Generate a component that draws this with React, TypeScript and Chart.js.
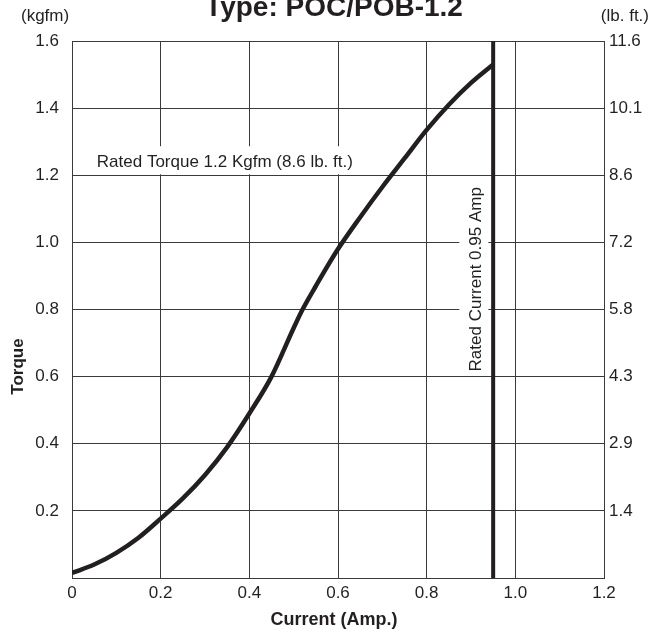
import React, { useEffect, useRef } from "react";
import { Chart, registerables } from "chart.js";

Chart.register(...registerables);

const currentAmp = [0, 0.05, 0.1, 0.15, 0.2, 0.25, 0.3, 0.35, 0.4, 0.45, 0.5, 0.52, 0.55, 0.6, 0.65, 0.7, 0.75, 0.8, 0.85, 0.9, 0.95];
const torqueKgfm = [0.015, 0.04, 0.075, 0.12, 0.177, 0.237, 0.307, 0.39, 0.49, 0.6, 0.745, 0.8, 0.87, 0.98, 1.075, 1.165, 1.25, 1.335, 1.41, 1.475, 1.53];
const lbftLabels = ["", "1.4", "2.9", "4.3", "5.8", "7.2", "8.6", "10.1", "11.6"];
const ratedCurrent = 0.95;
const ratedTorque = 1.2;
const titleText = "Type: POC/POB-1.2";
const torqueNote = "Rated Torque 1.2 Kgfm (8.6 lb. ft.)";
const currentNote = "Rated Current 0.95 Amp";

const FONT = "'Liberation Sans', Arial, Helvetica, sans-serif";
const INK = "#231f20";
const GRID = "#3a3a3a";

const annotationPlugin = {
  id: "annotations",
  beforeDatasetsDraw(chart: any) {
    const { ctx, chartArea, scales } = chart;
    const x = scales.x;
    const y = scales.y;
    ctx.save();
    ctx.font = `17px ${FONT}`;
    // torque note
    const tx = x.getPixelForValue(0.056);
    const yLine = y.getPixelForValue(ratedTorque);
    const tw = ctx.measureText(torqueNote).width;
    ctx.fillStyle = "#fff";
    ctx.fillRect(chartArea.left + 1, yLine - 29, tx - chartArea.left + tw + 6, 28);
    ctx.fillStyle = INK;
    ctx.textBaseline = "middle";
    ctx.textAlign = "left";
    ctx.fillText(torqueNote, tx, yLine - 13);
    // rated current note
    const cx = x.getPixelForValue(0.912);
    const cy = y.getPixelForValue(0.89);
    const cw = ctx.measureText(currentNote).width;
    ctx.fillStyle = "#fff";
    ctx.fillRect(cx - 17, cy - cw / 2 - 4, 29, cw + 6);
    ctx.translate(cx, cy);
    ctx.rotate(-Math.PI / 2);
    ctx.fillStyle = INK;
    ctx.textAlign = "center";
    ctx.textBaseline = "middle";
    ctx.fillText(currentNote, 0, 0);
    ctx.restore();
  },
  afterDraw(chart: any) {
    const { ctx, chartArea, scales } = chart;
    const mid = (chartArea.left + chartArea.right) / 2;
    ctx.save();
    ctx.fillStyle = INK;
    ctx.textBaseline = "alphabetic";
    ctx.font = `bold 28px ${FONT}`;
    ctx.textAlign = "center";
    ctx.fillText(titleText, mid - 4, 16);
    ctx.font = `17px ${FONT}`;
    ctx.textAlign = "left";
    ctx.fillText("(kgfm)", 21, 21);
    ctx.textAlign = "right";
    ctx.fillText("(lb. ft.)", chart.width - 3, 21);
    ctx.font = `bold 18px ${FONT}`;
    ctx.textAlign = "center";
    ctx.textBaseline = "middle";
    ctx.fillText("Current (Amp.)", mid - 4, 620);
    ctx.font = `bold 17px ${FONT}`;
    ctx.translate(18, scales.y.getPixelForValue(0.63));
    ctx.rotate(-Math.PI / 2);
    ctx.fillText("Torque", 0, 0);
    ctx.restore();
  },
};

export default function App() {
  const ref = useRef<HTMLCanvasElement | null>(null);
  useEffect(() => {
    document.body.style.margin = "0";
    const canvas = ref.current!;
    const chart = new Chart(canvas, {
      type: "line",
      data: {
        datasets: [
          {
            label: "Torque",
            data: currentAmp.map((c, i) => ({ x: c, y: torqueKgfm[i] })),
            borderColor: INK,
            borderWidth: 4.5,
            pointRadius: 0,
            cubicInterpolationMode: "monotone",
            fill: false,
            yAxisID: "y",
          },
          {
            label: "Rated current",
            data: [
              { x: ratedCurrent, y: 0 },
              { x: ratedCurrent, y: 1.6 },
            ],
            borderColor: INK,
            borderWidth: 4,
            pointRadius: 0,
            tension: 0,
            fill: false,
            yAxisID: "y",
          },
        ],
      },
      options: {
        responsive: false,
        animation: false,
        devicePixelRatio: 1,
        layout: { padding: { top: 41, left: 0, right: 0, bottom: 0 } },
        plugins: {
          legend: { display: false },
          tooltip: { enabled: false },
          title: { display: false },
        },
        scales: {
          x: {
            type: "linear",
            position: "bottom",
            min: 0,
            max: 1.2,
            ticks: {
              stepSize: 0.2,
              color: INK,
              font: { family: FONT, size: 17 },
              padding: 5,
              maxRotation: 0,
              callback: (v: any) => (Math.abs(v) < 1e-9 ? "0" : Number(v).toFixed(1)),
            },
            grid: { color: GRID, lineWidth: 1, drawTicks: false },
            border: { color: GRID, width: 1 },
            afterFit: (s: any) => {
              s.height = 58;
            },
          },
          y: {
            type: "linear",
            position: "left",
            min: 0,
            max: 1.6,
            ticks: {
              stepSize: 0.2,
              color: INK,
              font: { family: FONT, size: 17 },
              padding: 13,
              callback: (v: any) => (Math.abs(v) < 1e-9 ? "" : Number(v).toFixed(1)),
            },
            grid: { color: GRID, lineWidth: 1, drawTicks: false },
            border: { color: GRID, width: 1 },
            afterFit: (s: any) => {
              s.width = 72;
            },
          },
          y2: {
            type: "linear",
            position: "right",
            min: 0,
            max: 1.6,
            ticks: {
              stepSize: 0.2,
              color: INK,
              font: { family: FONT, size: 17 },
              padding: 5,
              callback: (_v: any, i: number) => lbftLabels[i] ?? "",
            },
            grid: { display: false, drawTicks: false },
            border: { color: GRID, width: 1 },
            afterFit: (s: any) => {
              s.width = 48;
            },
          },
        },
      },
      plugins: [annotationPlugin],
    } as any);
    return () => chart.destroy();
  }, []);
  return <canvas ref={ref} width={652} height={636} style={{ display: "block" }} />;
}
